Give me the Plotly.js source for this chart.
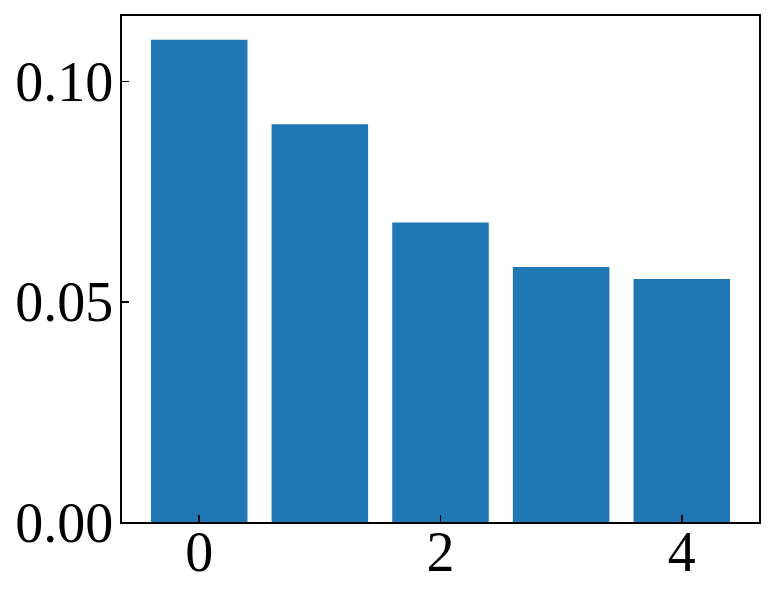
<!DOCTYPE html>
<html>
<head>
<meta charset="utf-8">
<script src="https://cdn.plot.ly/plotly-3.0.1.min.js"></script>
<style>html,body{margin:0;padding:0;background:#fff;}#chart{width:776px;height:600px;}</style>
</head>
<body>
<div id="chart"></div>
<script>
const categories = [0, 1, 2, 3, 4];
const values = [0.1095, 0.0903, 0.0680, 0.0579, 0.0552];
const xTickVals = [0, 2, 4];
const yTickVals = [0.00, 0.05, 0.10];

const font = {family: '"Liberation Serif", "Times New Roman", serif', size: 56, color: '#000'};

Plotly.newPlot('chart', [{
  type: 'bar',
  x: categories,
  y: values,
  width: 0.8,
  marker: {color: '#1f77b4', line: {width: 0}},
  hoverinfo: 'skip'
}], {
  width: 776, height: 600,
  margin: {l: 122, r: 17, t: 16, b: 78, pad: 0},
  paper_bgcolor: '#fff', plot_bgcolor: '#fff',
  showlegend: false,
  font: font,
  xaxis: {
    range: [-0.64, 4.64],
    tickvals: xTickVals, ticktext: xTickVals.map(String),
    ticks: 'inside', ticklen: 7, tickwidth: 1.5, tickcolor: '#000',
    showline: true, mirror: true, linecolor: '#000', linewidth: 1.6,
    showgrid: false, zeroline: false,
    tickfont: font, ticklabelstandoff: -20
  },
  yaxis: {
    range: [0, 0.1149],
    tickvals: yTickVals, ticktext: yTickVals.map(v => v.toFixed(2)),
    ticks: 'inside', ticklen: 7, tickwidth: 1.5, tickcolor: '#000',
    showline: true, mirror: true, linecolor: '#000', linewidth: 1.6,
    showgrid: false, zeroline: false,
    tickfont: font, ticklabelstandoff: -4
  }
}, {staticPlot: true});
</script>
</body>
</html>
